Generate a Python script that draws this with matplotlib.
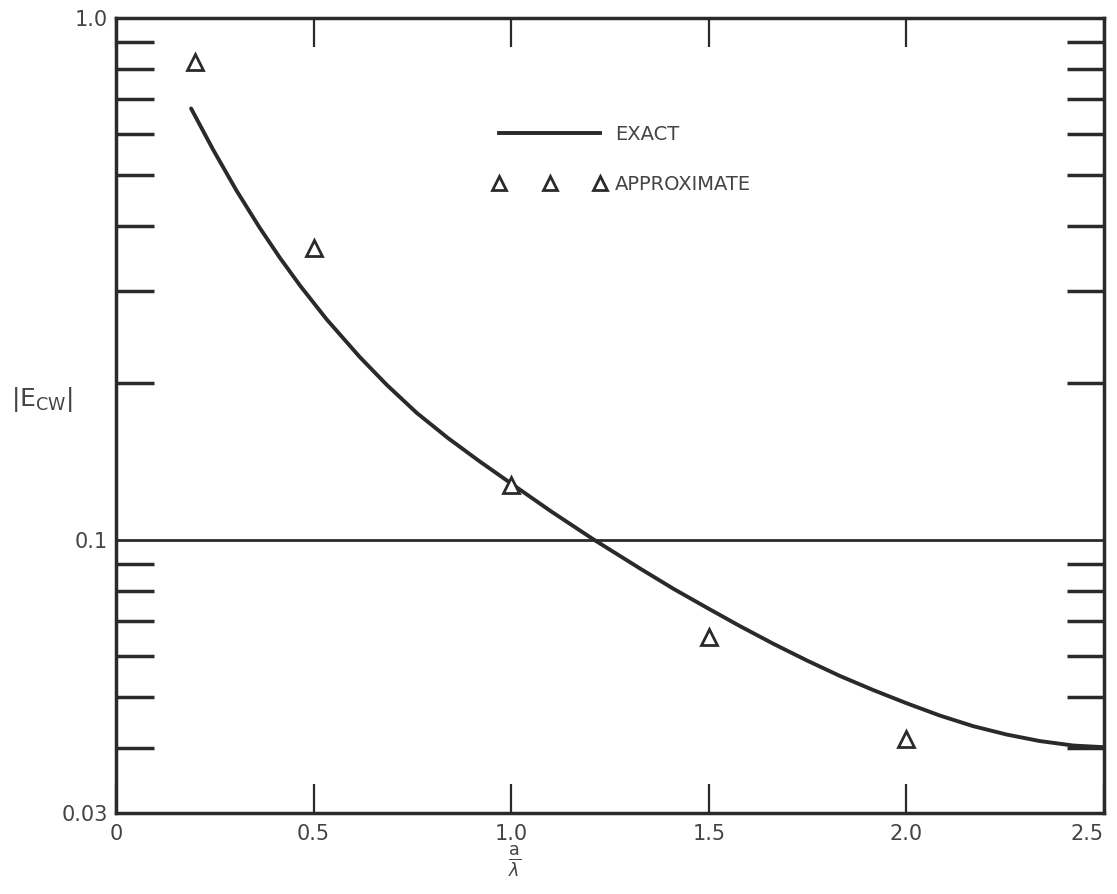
import numpy as np
import matplotlib.pyplot as plt
from matplotlib.lines import Line2D
from matplotlib.ticker import FixedLocator, NullFormatter

# ---- values ----
exact_x = [0.19, 0.246, 0.305, 0.364, 0.415, 0.466, 0.533, 0.617, 0.685, 0.761,
           0.84, 0.92, 1.0, 1.10, 1.208, 1.326, 1.41, 1.495, 1.579, 1.663, 1.748,
           1.832, 1.916, 2.0, 2.085, 2.169, 2.254, 2.338, 2.422, 2.5]
exact_y = [0.671, 0.559, 0.467, 0.396, 0.347, 0.307, 0.2647, 0.2241, 0.1983, 0.1752,
           0.1568, 0.1415, 0.1283, 0.1136, 0.1003, 0.0882, 0.0807, 0.0742, 0.0684,
           0.0633, 0.0588, 0.0549, 0.0516, 0.0487, 0.0461, 0.0440, 0.0424, 0.0412,
           0.0404, 0.0401]

approx_x = [0.2, 0.5, 1.0, 1.5, 2.0]
approx_y = [0.823, 0.363, 0.1275, 0.0652, 0.0416]

x_ticks = [0, 0.5, 1.0, 1.5, 2.0, 2.5]
x_labels = ["0", "0.5", "1.0", "1.5", "2.0", "2.5"]
y_ticks = [0.03, 0.1, 1.0]
y_labels = ["0.03", "0.1", "1.0"]
y_minor = [0.04, 0.05, 0.06, 0.07, 0.08, 0.09, 0.2, 0.3, 0.4, 0.5, 0.6, 0.7, 0.8, 0.9]

ink = "#2a2a2a"
txt = "#444444"
plt.rcParams['font.family'] = ['DejaVu Sans']

fig = plt.figure(figsize=(11.17, 8.94), dpi=100)
ax = fig.add_axes([116 / 1117, 1 - 813 / 894, 988 / 1117, 795 / 894])

ax.set_yscale('log')
ax.set_xlim(0, 2.5)
ax.set_ylim(0.03, 1.0)

# reference line at 0.1
ax.axhline(0.1, color=ink, lw=2.0)

ax.plot(exact_x, exact_y, color=ink, lw=2.8, solid_capstyle='round',
        solid_joinstyle='round')
ax.plot(approx_x, approx_y, linestyle='none', marker='^', markersize=11,
        markerfacecolor='white', markeredgecolor=ink, markeredgewidth=2.0)

for s in ax.spines.values():
    s.set_linewidth(2.5)
    s.set_color(ink)

ax.set_xticks(x_ticks)
ax.set_xticklabels(x_labels)
ax.tick_params(axis='x', which='major', direction='in', top=True, bottom=True,
               length=21, width=1.6, color=ink, labelsize=15, labelcolor=txt, pad=8)
ax.get_xticklabels()[-1].set_horizontalalignment('right')

ax.yaxis.set_major_locator(FixedLocator(y_ticks))
ax.set_yticklabels(y_labels)
ax.yaxis.set_minor_locator(FixedLocator(y_minor))
ax.yaxis.set_minor_formatter(NullFormatter())
ax.tick_params(axis='y', which='major', length=0, labelsize=15, labelcolor=txt, pad=6)
ax.tick_params(axis='y', which='minor', direction='in', left=True, right=True,
               length=27, width=2.5, color=ink)

ax.set_ylabel(r"$|\mathsf{E}_{\mathsf{CW}}|$", rotation=0, fontsize=18,
              color=txt, va='center', ha='center')
ax.yaxis.set_label_coords(-0.075, 0.52)
ax.set_xlabel(r"$\frac{\mathsf{a}}{\lambda}$", fontsize=18, color=txt)
ax.xaxis.set_label_coords(0.404, -0.061)
ax.xaxis.label.set_va('center')

handles = [Line2D([], [], color=ink, lw=2.8),
           Line2D([], [], linestyle='none', marker='^', markersize=10,
                  markerfacecolor='white', markeredgecolor=ink, markeredgewidth=2.0)]
leg = ax.legend(handles, ["EXACT", "APPROXIMATE"], loc='upper left',
                bbox_to_anchor=(0.364, 0.888), frameon=False, numpoints=3,
                handlelength=5.8, handletextpad=0.45, labelspacing=1.6,
                prop={'size': 14})
for t in leg.get_texts():
    t.set_color(txt)

fig.savefig("out.png", dpi=100, facecolor='white')
